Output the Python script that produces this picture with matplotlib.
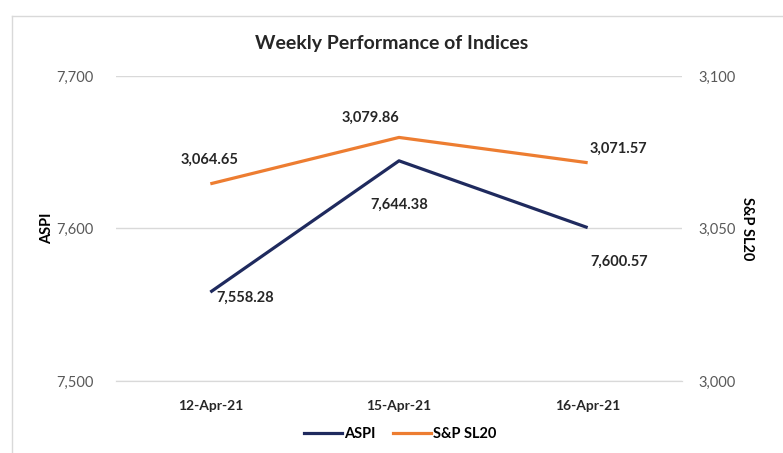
import matplotlib.pyplot as plt
from matplotlib.lines import Line2D

plt.rcParams['font.family'] = ['Lato', 'DejaVu Sans']

dates = ['12-Apr-21', '15-Apr-21', '16-Apr-21']
aspi = [7558.28, 7644.38, 7600.57]
snp = [3064.65, 3079.86, 3071.57]
left_ticks = [7500, 7600, 7700]
right_ticks = [3000, 3050, 3100]

navy = '#1F2A5E'
orange = '#ED7D31'
grid_c = '#D9D9D9'
tick_c = '#595959'

fig = plt.figure(figsize=(7.83, 4.53), dpi=100)
ax = fig.add_axes([116/783, 1-381/453, 566/783, 305/453])
ax2 = ax.twinx()

x = list(range(len(dates)))
ax.plot(x, aspi, color=navy, lw=2.3, solid_capstyle='butt')
ax2.plot(x, snp, color=orange, lw=2.3, solid_capstyle='butt')

ax.set_xlim(-0.5, 2.5)
ax.set_ylim(7500, 7700)
ax2.set_ylim(3000, 3100)
ax.set_yticks(left_ticks)
ax.set_yticklabels([f'{v:,}' for v in left_ticks])
ax2.set_yticks(right_ticks)
ax2.set_yticklabels([f'{v:,}' for v in right_ticks])
ax.set_xticks(x)
ax.set_xticklabels(dates, fontweight='bold')

ax.grid(axis='y', color=grid_c, lw=1)
ax.set_axisbelow(True)
for a in (ax, ax2):
    for s in ('top', 'left', 'right'):
        a.spines[s].set_visible(False)
    a.spines['bottom'].set_color(grid_c)
ax.tick_params(axis='y', length=0, pad=16, labelsize=10.5, labelcolor=tick_c)
ax2.tick_params(axis='y', length=0, pad=12, labelsize=10.5, labelcolor=tick_c)
ax.tick_params(axis='x', length=0, pad=14, labelsize=10, labelcolor='#262626')

ax.set_ylabel('ASPI', fontweight='bold', fontsize=10.5, labelpad=2)
ax2.set_ylabel('S&P SL20', fontweight='bold', fontsize=10.5, rotation=270, labelpad=13)

aspi_off = [(35, -6), (0, -44), (32, -34)]
snp_off = [(-1, 24), (-29, 20), (31, 14)]
for i, v in enumerate(aspi):
    ax.annotate(f'{v:,.2f}', (x[i], v), xytext=aspi_off[i], textcoords='offset pixels',
                ha='center', va='center', fontweight='bold', fontsize=10.5, color='#262626')
for i, v in enumerate(snp):
    ax2.annotate(f'{v:,.2f}', (x[i], v), xytext=snp_off[i], textcoords='offset pixels',
                 ha='center', va='center', fontweight='bold', fontsize=10.5, color='#262626')

fig.text(0.5, 1-43/453, 'Weekly Performance of Indices', ha='center', va='center',
         fontsize=14, fontweight='bold', color='#262626')

handles = [Line2D([], [], color=navy, lw=2.3), Line2D([], [], color=orange, lw=2.3)]
fig.legend(handles, ['ASPI', 'S&P SL20'], loc='center', bbox_to_anchor=(400/783, 1-434/453),
           ncol=2, frameon=False, prop={'weight': 'bold', 'size': 10.5}, handlelength=2.6,
           columnspacing=1.2, handletextpad=0.15)

# chart frame
fig.add_artist(Line2D([12/783, 12/783], [0, 1-16/453], color=grid_c, lw=1, transform=fig.transFigure))
fig.add_artist(Line2D([12/783, 1], [1-16/453, 1-16/453], color=grid_c, lw=1, transform=fig.transFigure))

fig.savefig('out.png', dpi=100)
